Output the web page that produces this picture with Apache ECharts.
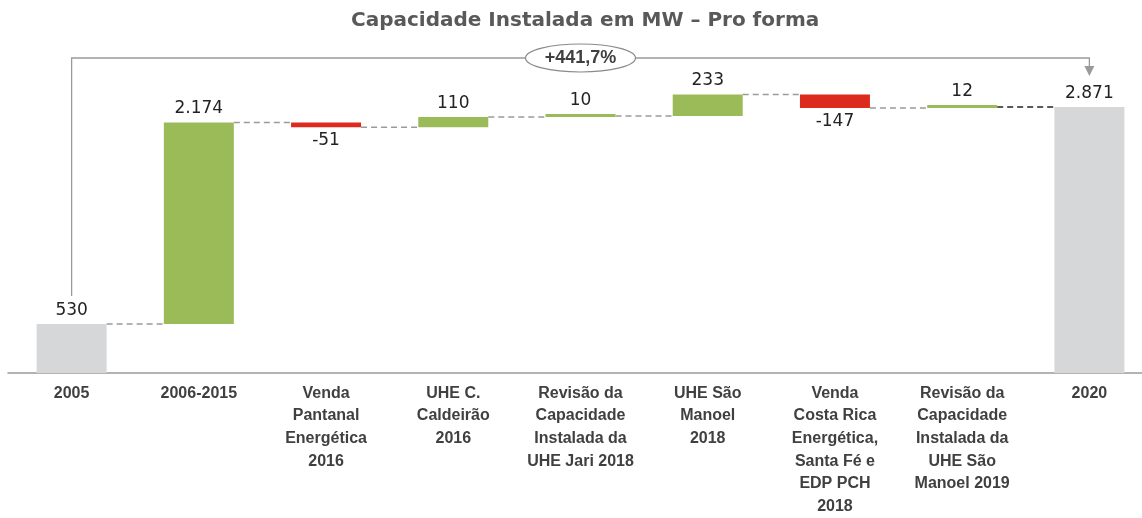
<!DOCTYPE html>
<html lang="pt">
  <head>
    <meta charset="UTF-8" />
    <title>Capacidade Instalada</title>
    <script src="https://cdn.jsdelivr.net/npm/echarts@6.0.0/dist/echarts.min.js"></script>
    <style>
      body { margin: 0; background: #fff; }
    </style>
  </head>
  <body>
    <div id="main" style="width: 1142px; height: 518px"></div>
  </body>
  <script>
    // categorias e valores (MW)
    const categories = [
      "2005",
      "2006-2015",
      "Venda\nPantanal\nEnergética\n2016",
      "UHE C.\nCaldeirão\n2016",
      "Revisão da\nCapacidade\nInstalada da\nUHE Jari 2018",
      "UHE São\nManoel\n2018",
      "Venda\nCosta Rica\nEnergética,\nSanta Fé e\nEDP PCH\n2018",
      "Revisão da\nCapacidade\nInstalada da\nUHE São\nManoel 2019",
      "2020",
    ];
    const values = [530, 2174, -51, 110, 10, 233, -147, 12, 2871];
    const isTotal = [true, false, false, false, false, false, false, false, true];

    const GREEN = "#9bbb59";
    const RED = "#dc2a1f";
    const GREY = "#d6d7d9";
    const BAR_W = 70;
    const Y_MAX = 3400;

    function fmt(v) {
      const s = String(Math.abs(v)).replace(/\B(?=(\d{3})+(?!\d))/g, ".");
      return v < 0 ? "-" + s : s;
    }

    // base invisivel + barra visivel
    let level = 0;
    const levels = []; // nivel acumulado depois de cada barra
    const baseData = [];
    const barData = [];
    values.forEach((v, i) => {
      if (isTotal[i]) {
        baseData.push(0);
        barData.push({
          value: v,
          itemStyle: { color: GREY },
          label: { position: "top" },
        });
        level = v;
      } else {
        const next = level + v;
        baseData.push(Math.min(level, next));
        barData.push({
          value: Math.abs(v),
          raw: v,
          itemStyle: { color: v < 0 ? RED : GREEN },
          label: { position: v < 0 ? "bottom" : "top" },
        });
        level = next;
      }
      levels.push(level);
    });

    const connectorData = levels.slice(0, -1).map((l, i) => [i, l]);
    const growth = ((values[values.length - 1] / values[0] - 1) * 100)
      .toFixed(1)
      .replace(".", ",");

    var myChart = echarts.init(document.getElementById("main"));

    var option = {
      animation: false,
      title: {
        text: "Capacidade Instalada em MW – Pro forma",
        left: 346,
        top: 6,
        textStyle: {
          fontFamily: "DejaVu Sans",
          fontWeight: "bold",
          fontSize: 20,
          color: "#595959",
        },
      },
      grid: {
        left: 8,
        width: 1145,
        top: 58,
        bottom: 145,
        outerBoundsMode: "none",
        containLabel: false,
      },
      xAxis: {
        type: "category",
        data: categories,
        axisTick: { show: false },
        axisLine: { lineStyle: { color: "#9a9a9a", width: 1.5 } },
        axisLabel: {
          interval: 0,
          margin: 9,
          fontFamily: "Liberation Sans",
          fontWeight: "bold",
          fontSize: 16,
          lineHeight: 22.6,
          color: "#404040",
        },
      },
      yAxis: {
        type: "value",
        min: 0,
        max: Y_MAX,
        show: false,
        splitLine: { show: false },
      },
      series: [
        {
          type: "bar",
          stack: "wf",
          data: baseData,
          barWidth: BAR_W,
          itemStyle: { color: "transparent" },
          silent: true,
        },
        {
          type: "bar",
          stack: "wf",
          data: barData,
          barWidth: BAR_W,
          barMinHeight: 3,
          label: {
            show: true,
            distance: 5,
            fontFamily: "DejaVu Sans",
            fontSize: 17,
            color: "#222",
            formatter: (p) => fmt(p.data.raw !== undefined ? p.data.raw : p.value),
          },
        },
        {
          // linhas tracejadas entre as barras
          type: "custom",
          data: connectorData,
          encode: { x: 0, y: 1 },
          z: 1,
          renderItem: function (params, api) {
            const i = api.value(0);
            const a = api.coord([i, api.value(1)]);
            const b = api.coord([i + 1, api.value(1)]);
            const last = i === connectorData.length - 1;
            return {
              type: "line",
              shape: { x1: a[0] + BAR_W / 2, y1: a[1], x2: b[0] - BAR_W / 2, y2: b[1] },
              style: {
                stroke: last ? "#222" : "#9a9a9a",
                lineWidth: 1.5,
                lineDash: [6, 4],
              },
            };
          },
        },
        {
          // colchete de crescimento 2005 -> 2020
          type: "custom",
          data: [[0, values[0]]],
          encode: { x: 0, y: 1 },
          renderItem: function (params, api) {
            const first = api.coord([0, values[0]]);
            const lastIdx = values.length - 1;
            const lastPt = api.coord([lastIdx, values[lastIdx]]);
            const top = api.coord([0, Y_MAX])[1];
            const mid = api.coord([4, Y_MAX])[0];
            const tipY = lastPt[1] - 31;
            const stroke = { stroke: "#9a9a9a", lineWidth: 1.3 };
            return {
              type: "group",
              children: [
                {
                  type: "polyline",
                  shape: {
                    points: [
                      [first[0], first[1] - 28],
                      [first[0], top],
                      [lastPt[0], top],
                      [lastPt[0], tipY - 9],
                    ],
                  },
                  style: Object.assign({ fill: null }, stroke),
                },
                {
                  type: "polygon",
                  shape: {
                    points: [
                      [lastPt[0] - 5, tipY - 10],
                      [lastPt[0] + 5, tipY - 10],
                      [lastPt[0], tipY],
                    ],
                  },
                  style: { fill: "#9a9a9a" },
                },
                {
                  type: "ellipse",
                  shape: { cx: mid, cy: top, rx: 55, ry: 14 },
                  style: { fill: "#fff", stroke: "#8a8a8a", lineWidth: 1.2 },
                },
                {
                  type: "text",
                  style: {
                    text: "+" + growth + "%",
                    x: mid,
                    y: top,
                    align: "center",
                    verticalAlign: "middle",
                    fontFamily: "Liberation Sans",
                    fontWeight: "bold",
                    fontSize: 18,
                    fill: "#404040",
                  },
                },
              ],
            };
          },
        },
      ],
    };

    myChart.setOption(option);
  </script>
</html>
